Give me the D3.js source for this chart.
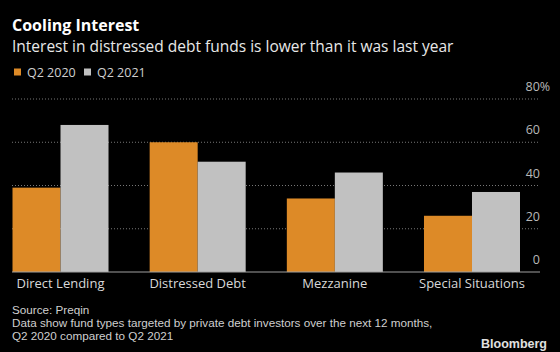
<!DOCTYPE html>
<html>
<head>
<meta charset="utf-8">
<script src="https://cdn.jsdelivr.net/npm/d3@7"></script>
<style>
  html, body { margin: 0; padding: 0; background: #000; }
  svg { display: block; }
  text { font-family: "Open Sans", "Liberation Sans", sans-serif; }
</style>
</head>
<body>
<script>
// Chart data
const categories = ["Direct Lending", "Distressed Debt", "Mezzanine", "Special Situations"];
const seriesNames = ["Q2 2020", "Q2 2021"];
const q2020 = [39, 60, 34, 26];
const q2021 = [68, 51, 46, 37];
const yTicks = [0, 20, 40, 60, 80];
const colors = ["#dd8a27", "#c1c1c1"];

const width = 560;
const height = 352;

const svg = d3.select("body").append("svg")
    .attr("width", width)
    .attr("height", height)
    .style("background", "#000");

// Title block
svg.append("text")
    .attr("x", 12).attr("y", 30.5)
    .attr("fill", "#fff")
    .style("font-size", "16px")
    .style("font-weight", "bold")
    .text("Cooling Interest");

svg.append("text")
    .attr("x", 12).attr("y", 52)
    .attr("fill", "#e8e8e8")
    .style("font-size", "15.5px")
    .text("Interest in distressed debt funds is lower than it was last year");

// legend
const legend = svg.append("g").attr("transform", "translate(14,72)");
seriesNames.forEach((name, i) => {
  const lx = i * 70;
  legend.append("rect")
      .attr("x", lx).attr("y", -3.5)
      .attr("width", 7).attr("height", 7)
      .attr("fill", colors[i]);
  legend.append("text")
      .attr("x", lx + 13).attr("y", 4.5)
      .attr("fill", "#d0d0d0")
      .style("font-size", "12.5px")
      .text(name);
});

// Scales
const x0 = d3.scaleBand()
    .domain(categories)
    .range([12.5, 520])
    .paddingInner(0.3)
    .paddingOuter(0);

const x1 = d3.scaleBand()
    .domain(seriesNames)
    .range([0, x0.bandwidth()]);

const y = d3.scaleLinear()
    .domain([0, 80])
    .range([272, 99]);

// Grid lines
svg.append("g")
  .selectAll("line")
  .data(yTicks.filter(d => d > 0))
  .join("line")
    .attr("x1", 12).attr("x2", 540)
    .attr("y1", d => y(d)).attr("y2", d => y(d))
    .attr("stroke", "#777")
    .attr("stroke-width", 1)
    .attr("stroke-dasharray", "1,2");

// Bars
const rows = categories.map((c, i) => ({ cat: c, values: [q2020[i], q2021[i]] }));

svg.append("g")
  .selectAll("g")
  .data(rows)
  .join("g")
    .attr("transform", d => `translate(${x0(d.cat)},0)`)
  .selectAll("rect")
  .data(d => d.values.map((v, i) => ({ key: seriesNames[i], value: v, i })))
  .join("rect")
    .attr("x", d => x1(d.key))
    .attr("width", x1.bandwidth())
    .attr("y", d => y(d.value))
    .attr("height", d => y(0) - y(d.value))
    .attr("fill", d => colors[d.i]);

// Baseline
svg.append("line")
    .attr("x1", 12).attr("x2", 540)
    .attr("y1", y(0)).attr("y2", y(0))
    .attr("stroke", "#a0a0a0")
    .attr("stroke-width", 1);

// Y tick labels (right side), the % of the top one hangs past the edge
svg.append("g")
  .selectAll("text")
  .data(yTicks)
  .join("text")
    .attr("x", d => d === 80 ? 540 - 14.5 : 540)
    .attr("y", d => y(d) - 8)
    .attr("text-anchor", d => d === 80 ? "start" : "end")
    .attr("fill", "#b8b8b8")
    .style("font-size", "12.5px")
    .text(d => d === 80 ? d + "%" : d);

// Category labels
svg.append("g")
  .selectAll("text")
  .data(categories)
  .join("text")
    .attr("x", d => x0(d) + x0.bandwidth() / 2)
    .attr("y", 288)
    .attr("text-anchor", "middle")
    .attr("fill", "#d8d8d8")
    .style("font-size", "13px")
    .text(d => d);

// Footer
const foot = ["Source: Preqin",
  "Data show fund types targeted by private debt investors over the next 12 months,",
  "Q2 2020 compared to Q2 2021"];
svg.append("g")
  .selectAll("text")
  .data(foot)
  .join("text")
    .attr("x", 12)
    .attr("y", (d, i) => 313.5 + i * 13.3)
    .attr("fill", "#cfcfcf")
    .style("font-size", "11.7px")
    .style("font-family", "Liberation Sans, Arial, sans-serif")
    .text(d => d);

svg.append("text")
    .attr("x", 547).attr("y", 348)
    .attr("text-anchor", "end")
    .attr("fill", "#e0e0e0")
    .style("font-size", "12.5px")
    .style("font-weight", "bold")
    .style("font-family", "Liberation Sans, Arial, sans-serif")
    .text("Bloomberg");
</script>
</body>
</html>
